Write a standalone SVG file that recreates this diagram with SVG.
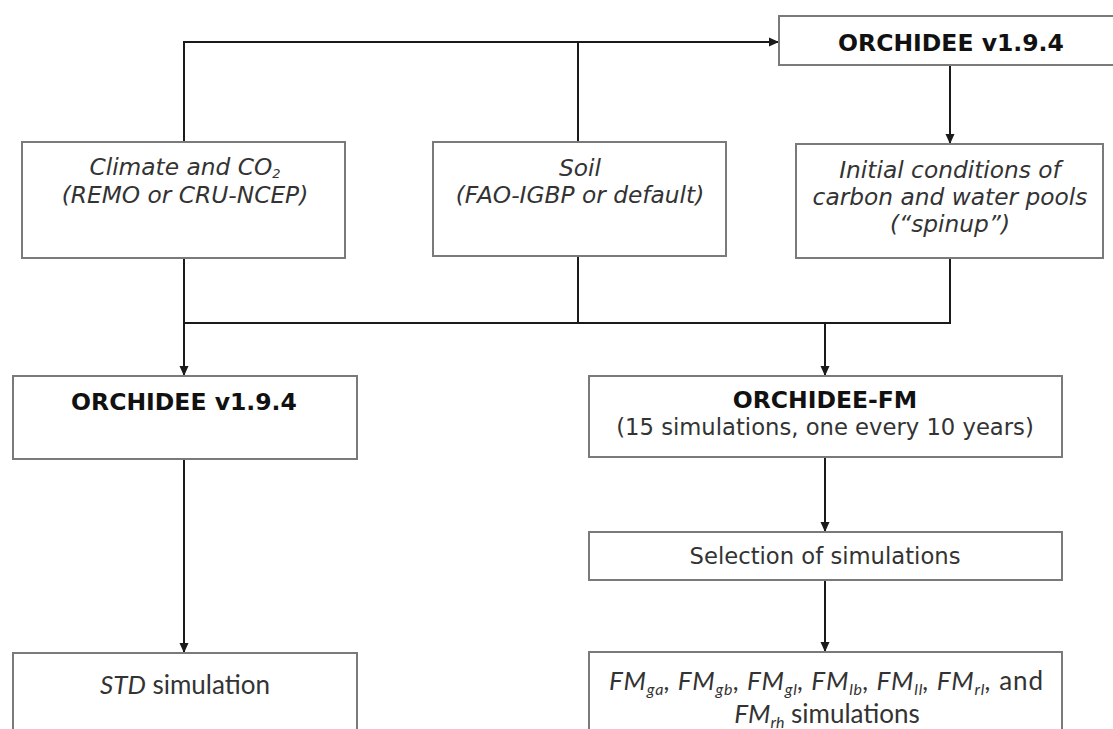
<svg xmlns="http://www.w3.org/2000/svg" width="1113" height="729" viewBox="0 0 1113 729">
<style>
.box{fill:#fff;stroke:#7a7a7a;stroke-width:2}
.con{fill:none;stroke:#1a1a1a;stroke-width:2}
.b{font-family:"DejaVu Sans",Verdana,sans-serif;font-weight:bold;font-size:23.5px;fill:#111;text-anchor:middle}
.i{font-family:"DejaVu Sans",Verdana,sans-serif;font-style:italic;font-size:23.3px;fill:#333;text-anchor:middle}
.r{font-family:"DejaVu Sans",Verdana,sans-serif;font-size:22.7px;fill:#333;text-anchor:middle}
.c{font-family:Lato,"Open Sans",sans-serif;font-size:26px;fill:#333;text-anchor:middle}
.it{font-style:italic}
.sub{font-size:16px}
.sub2{font-size:13px}
</style>
<defs>
<marker id="ah" markerUnits="userSpaceOnUse" markerWidth="10" markerHeight="10" refX="10" refY="5" orient="auto">
<path d="M0,0.5 L10,5 L0,9.5 z" fill="#1a1a1a"/>
</marker>
</defs>
<rect width="1113" height="729" fill="#fff"/>
<g id="connectors">
<path class="con" d="M184,142 V42 H779" marker-end="url(#ah)"/>
<path class="con" d="M578,142 V42"/>
<path class="con" d="M950,65 V144" marker-end="url(#ah)"/>
<path class="con" d="M184,258 V376" marker-end="url(#ah)"/>
<path class="con" d="M578,256 V323"/>
<path class="con" d="M950,258 V323 H184"/>
<path class="con" d="M825,323 V376" marker-end="url(#ah)"/>
<path class="con" d="M825,457 V532" marker-end="url(#ah)"/>
<path class="con" d="M825,580 V652" marker-end="url(#ah)"/>
<path class="con" d="M184,459 V653" marker-end="url(#ah)"/>
</g>
<g id="orchidee-top">
<rect class="box" x="779" y="16" width="350" height="49"/>
<text class="b" x="951" y="51">ORCHIDEE v1.9.4</text>
</g>
<g id="climate">
<rect class="box" x="22" y="142" width="323" height="116"/>
<text class="i" x="185" y="175">Climate and CO<tspan class="sub2" dy="3">2</tspan></text>
<text class="i" x="185" y="203">(REMO or CRU-NCEP)</text>
</g>
<g id="soil">
<rect class="box" x="433" y="142" width="293" height="114"/>
<text class="i" x="580" y="176">Soil</text>
<text class="i" x="580" y="203">(FAO-IGBP or default)</text>
</g>
<g id="initial">
<rect class="box" x="796" y="144" width="307" height="114"/>
<text class="i" x="950" y="178">Initial conditions of</text>
<text class="i" x="950" y="205">carbon and water pools</text>
<text class="i" x="950" y="232">(“spinup”)</text>
</g>
<g id="orchidee-std">
<rect class="box" x="13" y="376" width="344" height="83"/>
<text class="b" x="184" y="410">ORCHIDEE v1.9.4</text>
</g>
<g id="orchidee-fm">
<rect class="box" x="589" y="376" width="473" height="81"/>
<text class="b" x="825" y="408">ORCHIDEE-FM</text>
<text class="r" x="825" y="435">(15 simulations, one every 10 years)</text>
</g>
<g id="selection">
<rect class="box" x="589" y="532" width="473" height="48"/>
<text class="r" x="825" y="564">Selection of simulations</text>
</g>
<g id="std">
<rect class="box" x="13" y="653" width="344" height="90"/>
<text class="c" x="185" y="694"><tspan class="it">STD</tspan> simulation</text>
</g>
<g id="fm-sims">
<rect class="box" x="589" y="652" width="473" height="90"/>
<text class="c" x="826" y="690" textLength="434" lengthAdjust="spacing"><tspan class="it">FM</tspan><tspan class="it sub" dy="5">ga</tspan><tspan class="it" dy="-5">, FM</tspan><tspan class="it sub" dy="5">gb</tspan><tspan class="it" dy="-5">, FM</tspan><tspan class="it sub" dy="5">gl</tspan><tspan class="it" dy="-5">, FM</tspan><tspan class="it sub" dy="5">lb</tspan><tspan class="it" dy="-5">, FM</tspan><tspan class="it sub" dy="5">ll</tspan><tspan class="it" dy="-5">, FM</tspan><tspan class="it sub" dy="5">rl</tspan><tspan class="it" dy="-5">,</tspan> and</text>
<text class="c" x="827" y="723"><tspan class="it">FM</tspan><tspan class="it sub" dy="5">rh</tspan><tspan dy="-5"> simulations</tspan></text>
</g>
</svg>
